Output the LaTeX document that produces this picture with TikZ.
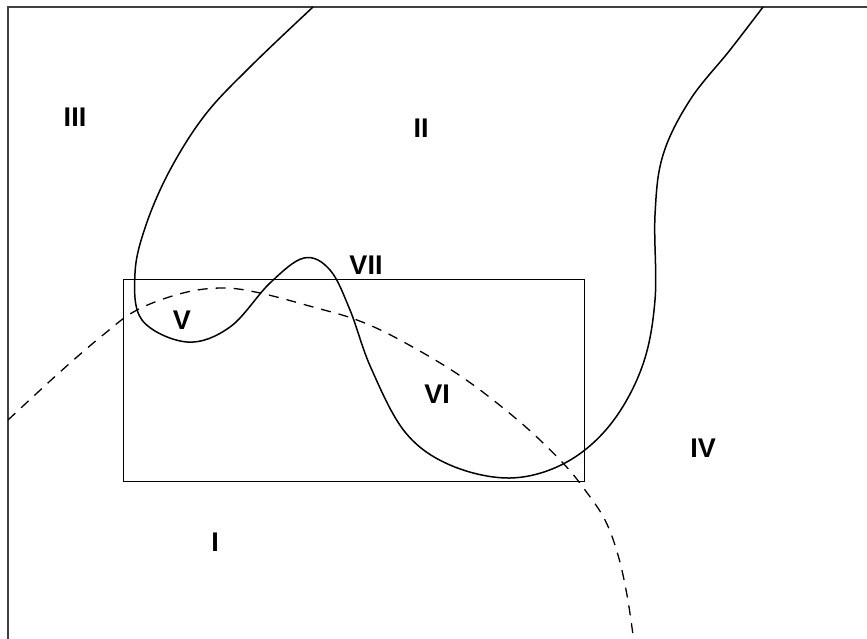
\documentclass[tikz,border=0pt]{standalone}
\usepackage{fontspec}
\setmainfont{Liberation Sans}
\begin{document}
\begin{tikzpicture}[x=1pt,y=-1pt,
  region/.style={font=\fontsize{27}{30}\selectfont\bfseries, inner sep=0pt, anchor=center},
  curve/.style={line width=1.5pt, line join=round},
  frame/.style={line width=1.5pt, draw=black!75},
  dashcurve/.style={line width=1.3pt, dash pattern=on 10pt off 8pt},
  boxline/.style={line width=1pt}]
\useasboundingbox (0,0) rectangle (867,639);
% frame (top and left)
\draw[frame] (867,7) -- (8,7) -- (8,639);
% rectangle
\draw[boxline] (123,279) rectangle (584,481);
% dashed arc
\draw[dashcurve] plot[smooth, tension=0.6] coordinates {
  (8,420) (60,372) (103,335) (137,310) (183,293) (223,288) (260,293)
  (313,307) (357,320) (400,340) (462,377) (520,422) (562,462)
  (585,490) (605,520) (618,555) (627,595) (633,635)};
% solid curve
\draw[curve] plot[smooth, tension=0.6] coordinates {
  (313,7) (250,67) (205,115) (170,170) (146,225) (135,273)
  (142,320) (187,342) (230,327) (270,283)
  (304,258) (330,270) (350,310) (371,368)
  (405,432) (450,465) (510,478)
  (565,463) (610,425) (642,367)
  (655,300) (655,215) (663,155) (690,100)
  (730,50) (763,7)};
% labels
\node[region] (l3) at (75,117) {III};
\node[region] (l2) at (421,128) {II};
\node[region] (l7) at (366,265) {VII};
\node[region] (l5) at (182,320) {V};
\node[region] (l6) at (437,394) {VI};
\node[region] (l4) at (703,448) {IV};
\node[region] (l1) at (215,542) {I};
\end{tikzpicture}
\end{document}
